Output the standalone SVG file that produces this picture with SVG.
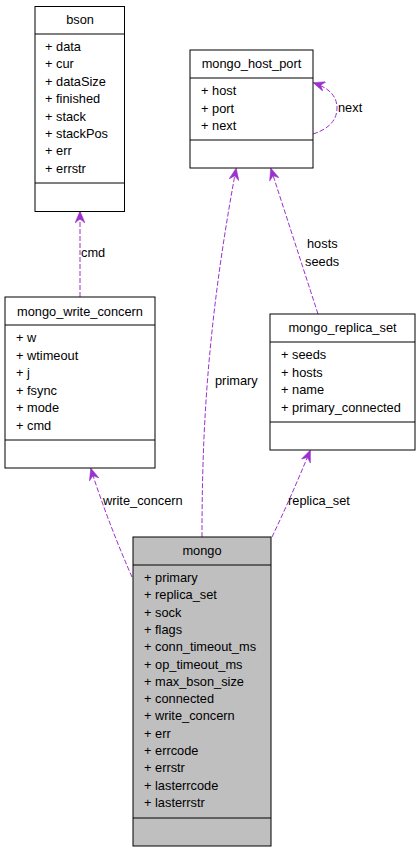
<svg xmlns="http://www.w3.org/2000/svg" width="420" height="853" viewBox="0 0 420 853">
<defs>
<style>
text{font-family:"Liberation Sans",Arial,sans-serif;font-size:12.8px;fill:#000}
.h{text-anchor:middle}
.box{fill:#fff;stroke:#000;stroke-width:1}
.gray{fill:#bfbfbf}
.edge{fill:none;stroke:#9a32cd;stroke-width:1;stroke-dasharray:5,2}
</style>
<marker id="arr" viewBox="0 0 12 10" refX="11" refY="5" markerWidth="12" markerHeight="10" markerUnits="userSpaceOnUse" orient="auto">
<path d="M0,0 L12,5 L0,10 L4,5 Z" fill="#9a32cd" stroke="#9a32cd" stroke-width="0.5"/>
</marker>
</defs>
<rect width="420" height="853" fill="#fff"/>
<g id="connectors">
<path class="edge" d="M80,297 L80,212" marker-end="url(#arr)"/>
<text x="81" y="257">cmd</text>
<path class="edge" d="M202,537 C202,440 206,330 236,169" marker-end="url(#arr)"/>
<text x="215" y="385">primary</text>
<path class="edge" d="M318,314 L271,169" marker-end="url(#arr)"/>
<text x="307" y="248">hosts</text>
<text x="305" y="266">seeds</text>
<path class="edge" d="M313,134 C326,130 337,122 337,108 C337,94 326,87 314,83" marker-end="url(#arr)"/>
<text x="338" y="112">next</text>
<path class="edge" d="M132,577 C120,550 102,505 91,469" marker-end="url(#arr)"/>
<text x="103" y="505">write_concern</text>
<path class="edge" d="M272,537 C285,510 298,480 310,451" marker-end="url(#arr)"/>
<text x="288" y="505">replica_set</text>
</g>
<g id="bson">
<rect class="box" x="35" y="6.5" width="89.5" height="205"/>
<line x1="35" y1="34" x2="124.5" y2="34" stroke="#000"/>
<line x1="35" y1="183" x2="124.5" y2="183" stroke="#000"/>
<text class="h" x="80" y="24">bson</text>
<text x="45" y="51">+ data</text>
<text x="45" y="68.4">+ cur</text>
<text x="45" y="85.8">+ dataSize</text>
<text x="45" y="103.2">+ finished</text>
<text x="45" y="120.6">+ stack</text>
<text x="45" y="138">+ stackPos</text>
<text x="45" y="155.4">+ err</text>
<text x="45" y="172.8">+ errstr</text>
</g>
<g id="mongo_host_port">
<rect class="box" x="190" y="50" width="123" height="118"/>
<line x1="190" y1="78" x2="313" y2="78" stroke="#000"/>
<line x1="190" y1="140" x2="313" y2="140" stroke="#000"/>
<text class="h" x="251.5" y="68">mongo_host_port</text>
<text x="201" y="95">+ host</text>
<text x="201" y="112.5">+ port</text>
<text x="201" y="130">+ next</text>
</g>
<g id="mongo_write_concern">
<rect class="box" x="5" y="297" width="150" height="171"/>
<line x1="5" y1="325" x2="155" y2="325" stroke="#000"/>
<line x1="5" y1="440" x2="155" y2="440" stroke="#000"/>
<text class="h" x="80" y="316">mongo_write_concern</text>
<text x="16" y="342">+ w</text>
<text x="16" y="359.5">+ wtimeout</text>
<text x="16" y="377">+ j</text>
<text x="16" y="394.5">+ fsync</text>
<text x="16" y="412">+ mode</text>
<text x="16" y="429.5">+ cmd</text>
</g>
<g id="mongo_replica_set">
<rect class="box" x="270" y="314" width="145" height="136"/>
<line x1="270" y1="342" x2="415" y2="342" stroke="#000"/>
<line x1="270" y1="422" x2="415" y2="422" stroke="#000"/>
<text class="h" x="342.5" y="332">mongo_replica_set</text>
<text x="281" y="359">+ seeds</text>
<text x="281" y="376.5">+ hosts</text>
<text x="281" y="394">+ name</text>
<text x="281" y="411.5">+ primary_connected</text>
</g>
<g id="mongo">
<rect class="box gray" x="133" y="537" width="138" height="309"/>
<line x1="133" y1="565" x2="271" y2="565" stroke="#000"/>
<line x1="133" y1="818" x2="271" y2="818" stroke="#000"/>
<text class="h" x="202" y="555">mongo</text>
<text x="144" y="582">+ primary</text>
<text x="144" y="599.3">+ replica_set</text>
<text x="144" y="616.6">+ sock</text>
<text x="144" y="633.9">+ flags</text>
<text x="144" y="651.2">+ conn_timeout_ms</text>
<text x="144" y="668.5">+ op_timeout_ms</text>
<text x="144" y="685.8">+ max_bson_size</text>
<text x="144" y="703.1">+ connected</text>
<text x="144" y="720.4">+ write_concern</text>
<text x="144" y="737.7">+ err</text>
<text x="144" y="755">+ errcode</text>
<text x="144" y="772.3">+ errstr</text>
<text x="144" y="789.6">+ lasterrcode</text>
<text x="144" y="806.9">+ lasterrstr</text>
</g>
</svg>
